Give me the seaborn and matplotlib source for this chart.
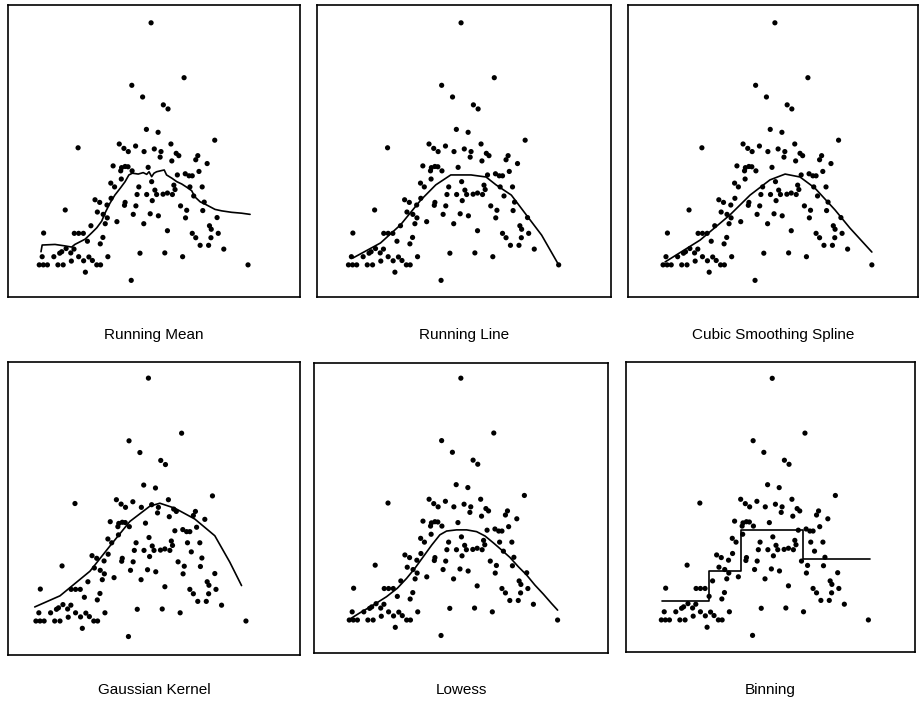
import numpy as np
import pandas as pd
import matplotlib
matplotlib.use("Agg")
import matplotlib.pyplot as plt
import seaborn as sns

# Scatter data shared by all six panels
x_pts = [49.0, 60.3, 42.4, 46.1, 53.2, 54.8, 47.4, 51.4, 70.8, 24.0,
         38.1, 39.7, 41.2, 43.7, 46.6, 50.1, 52.4, 52.1, 55.8, 57.6,
         58.5, 65.0, 64.3, 56.1, 68.2, 36.0, 38.9, 40.1, 41.1, 38.6,
         42.5, 48.0, 58.0, 60.7, 62.0, 63.1, 65.4, 38.8, 49.2, 35.2,
         36.5, 44.8, 56.8, 57.2, 62.3, 66.5, 50.3, 50.9, 44.2, 47.5,
         53.1, 54.6, 56.3, 63.6, 29.8, 31.4, 35.3, 49.4, 40.1, 39.9,
         43.8, 59.1, 61.2, 67.2, 66.7, 33.9, 19.6, 30.6, 32.6, 34.0,
         42.9, 48.7, 51.5, 60.8, 71.6, 37.3, 33.3, 46.5, 28.4, 69.0,
         69.6, 12.2, 22.7, 24.2, 25.8, 32.5, 54.6, 63.1, 64.3, 72.0,
         69.5, 27.2, 31.6, 65.8, 68.7, 73.9, 17.7, 18.4, 19.9, 21.5,
         22.6, 11.7, 15.7, 21.7, 24.2, 25.9, 27.7, 28.9, 30.4, 31.7,
         34.2, 45.2, 53.7, 59.8, 10.7, 12.1, 13.5, 17.1, 18.9, 26.5,
         42.2, 82.2]
y_pts = [93.9, 75.1, 72.5, 68.5, 65.8, 64.4, 57.4, 56.4, 53.7, 51.1,
         52.4, 50.9, 49.8, 51.7, 49.8, 50.7, 49.8, 47.9, 52.4, 49.2,
         48.4, 48.4, 47.0, 46.6, 45.7, 44.9, 44.3, 44.7, 44.6, 43.2,
         43.2, 44.4, 41.8, 42.2, 41.5, 41.5, 43.0, 40.4, 39.5, 39.0,
         37.7, 37.7, 38.3, 36.8, 37.7, 37.7, 36.6, 35.1, 35.1, 35.1,
         35.2, 35.6, 35.1, 34.6, 33.3, 32.4, 33.8, 33.0, 32.4, 31.4,
         31.2, 31.2, 29.7, 32.5, 29.6, 31.5, 29.8, 29.1, 28.3, 27.1,
         28.3, 28.5, 27.8, 27.1, 27.2, 25.8, 25.1, 25.1, 24.4, 24.4,
         23.2, 21.9, 21.8, 21.8, 21.8, 20.4, 22.7, 21.8, 20.3, 21.8,
         20.3, 19.1, 18.2, 17.7, 17.7, 16.4, 15.0, 15.5, 16.6, 15.1,
         16.4, 13.8, 13.8, 12.3, 13.8, 12.4, 13.7, 12.5, 11.0, 11.0,
         13.8, 15.0, 15.1, 13.8, 11.0, 11.0, 11.0, 11.0, 11.0, 8.5,
         5.7, 11.0]

# Running mean fit
rmean_x = [11.3, 11.7, 16.1, 19.5, 21.8, 22.9, 26.4, 28.7, 30.4, 32.1,
           33.2, 34.9, 36.6, 38.4, 40.1, 41.4, 42.6, 44.6, 46.3, 47.5,
           48.3, 49.2, 50.0, 50.9, 52.6, 53.5, 54.3, 56.1, 57.8, 59.5,
           61.2, 62.9, 64.0, 65.8, 67.5, 69.2, 70.9, 73.2, 76.6, 80.0, 82.9]
rmean_y = [15.5, 17.8, 18.0, 17.5, 17.1, 18.0, 19.8, 22.0, 23.7, 26.0,
           28.7, 32.1, 34.9, 37.2, 39.5, 41.8, 42.4, 42.1, 42.6, 42.0,
           42.9, 41.2, 42.4, 42.9, 43.3, 43.5, 41.8, 40.7, 39.5, 38.7,
           37.6, 36.4, 34.3, 32.6, 31.8, 30.9, 30.0, 29.5, 29.0, 28.7, 28.3]

# Running line fit
rline_x = [12.3, 21.6, 28.4, 35.3, 40.4, 45.5, 52.4, 57.5, 60.9, 66.1, 71.2, 76.4, 82.2]
rline_y = [13.4, 18.5, 24.7, 33.2, 38.4, 41.8, 41.8, 41.1, 38.4, 34.9, 28.1, 21.2, 11.0]

# Cubic smoothing spline fit
spline_x = [11.4, 23.4, 33.6, 40.5, 47.3, 52.5, 57.6, 62.7, 69.6, 74.7, 82.2]
spline_y = [12.0, 19.5, 28.1, 34.9, 40.1, 42.1, 41.1, 37.3, 29.8, 23.6, 15.4]

# Gaussian kernel fit
kern_x = [10.3, 18.9, 29.1, 35.9, 42.7, 49.5, 52.9, 58.0, 64.8, 71.6, 76.7, 80.7]
kern_y = [15.8, 19.6, 28.0, 36.6, 45.0, 50.2, 51.2, 49.5, 45.8, 40.1, 31.1, 23.1]

# Lowess fit
lowess_x = [10.7, 14.4, 18.9, 23.5, 27.2, 30.4, 33.2, 36.1, 39.0, 41.8, 44.1, 47.5,
            51.0, 54.4, 57.3, 60.1, 63.0, 65.8, 68.7, 71.6, 74.4, 77.3, 80.1, 82.2]
lowess_y = [11.2, 13.5, 16.1, 19.0, 21.9, 25.3, 28.7, 32.7, 36.7, 40.2, 41.5, 41.9,
            41.9, 41.3, 39.8, 37.5, 35.0, 32.5, 29.3, 26.4, 23.0, 19.9, 16.7, 14.4]

# Binning: bin edges and bin means
bin_edges = [11.1, 27.3, 38.3, 59.7, 82.6]
bin_means = [17.5, 27.9, 41.9, 31.8]

titles = ["Running Mean", "Running Line", "Cubic Smoothing Spline",
          "Gaussian Kernel", "Lowess", "Binning"]

sns.set_theme(style="white")
plt.rcParams["font.family"] = ["Liberation Sans", "DejaVu Sans"]

W, H = 919, 701
fig = plt.figure(figsize=(W / 100, H / 100), dpi=100)

# axes boxes in pixel units: left, top, right, bottom
boxes = [(8, 5, 300, 297), (317, 5, 611, 297), (628, 5, 918, 297),
         (8, 362, 300, 655), (314, 363, 608, 653), (626, 362, 915, 652)]
# per-panel data limits: (xmin, xmax, ymin, ymax)
limits = [(0, 100, 0, 100), (0, 100, 0, 100), (-1.3, 98.0, 0, 100),
          (1.2, 100.6, -0.6, 99.4), (-1.4, 99.5, -0.3, 99.1), (-1.5, 98.3, 0.0, 99.5)]
title_y = [335, 335, 335, 690, 690, 690]

pts = pd.DataFrame({"x": x_pts, "y": y_pts})

fits = [
    (rmean_x, rmean_y, None),
    (rline_x, rline_y, None),
    (spline_x, spline_y, None),
    (kern_x, kern_y, None),
    (lowess_x, lowess_y, None),
    (bin_edges, bin_means + [bin_means[-1]], "steps-post"),
]

for i, (l, t, r, b) in enumerate(boxes):
    ax = fig.add_axes([l / W, 1 - b / H, (r - l) / W, (b - t) / H])
    sns.scatterplot(data=pts, x="x", y="y", ax=ax, color="black", s=14,
                    edgecolor="none", legend=False)
    fx, fy, ds = fits[i]
    line = pd.DataFrame({"x": fx, "y": fy})
    kw = {"drawstyle": ds} if ds else {}
    sns.lineplot(data=line, x="x", y="y", ax=ax, color="black", lw=1.2,
                 estimator=None, sort=False, legend=False, **kw)
    x0, x1, y0, y1 = limits[i]
    ax.set_xlim(x0, x1)
    ax.set_ylim(y0, y1)
    ax.set_xticks([])
    ax.set_yticks([])
    ax.set_xlabel("")
    ax.set_ylabel("")
    for s in ax.spines.values():
        s.set_visible(True)
        s.set_color("black")
        s.set_linewidth(1.2)
    fig.text(((l + r) / 2) / W, 1 - title_y[i] / H, titles[i],
             ha="center", va="center", fontsize=11, color="black")

fig.savefig("out.png", dpi=100, facecolor="white")
